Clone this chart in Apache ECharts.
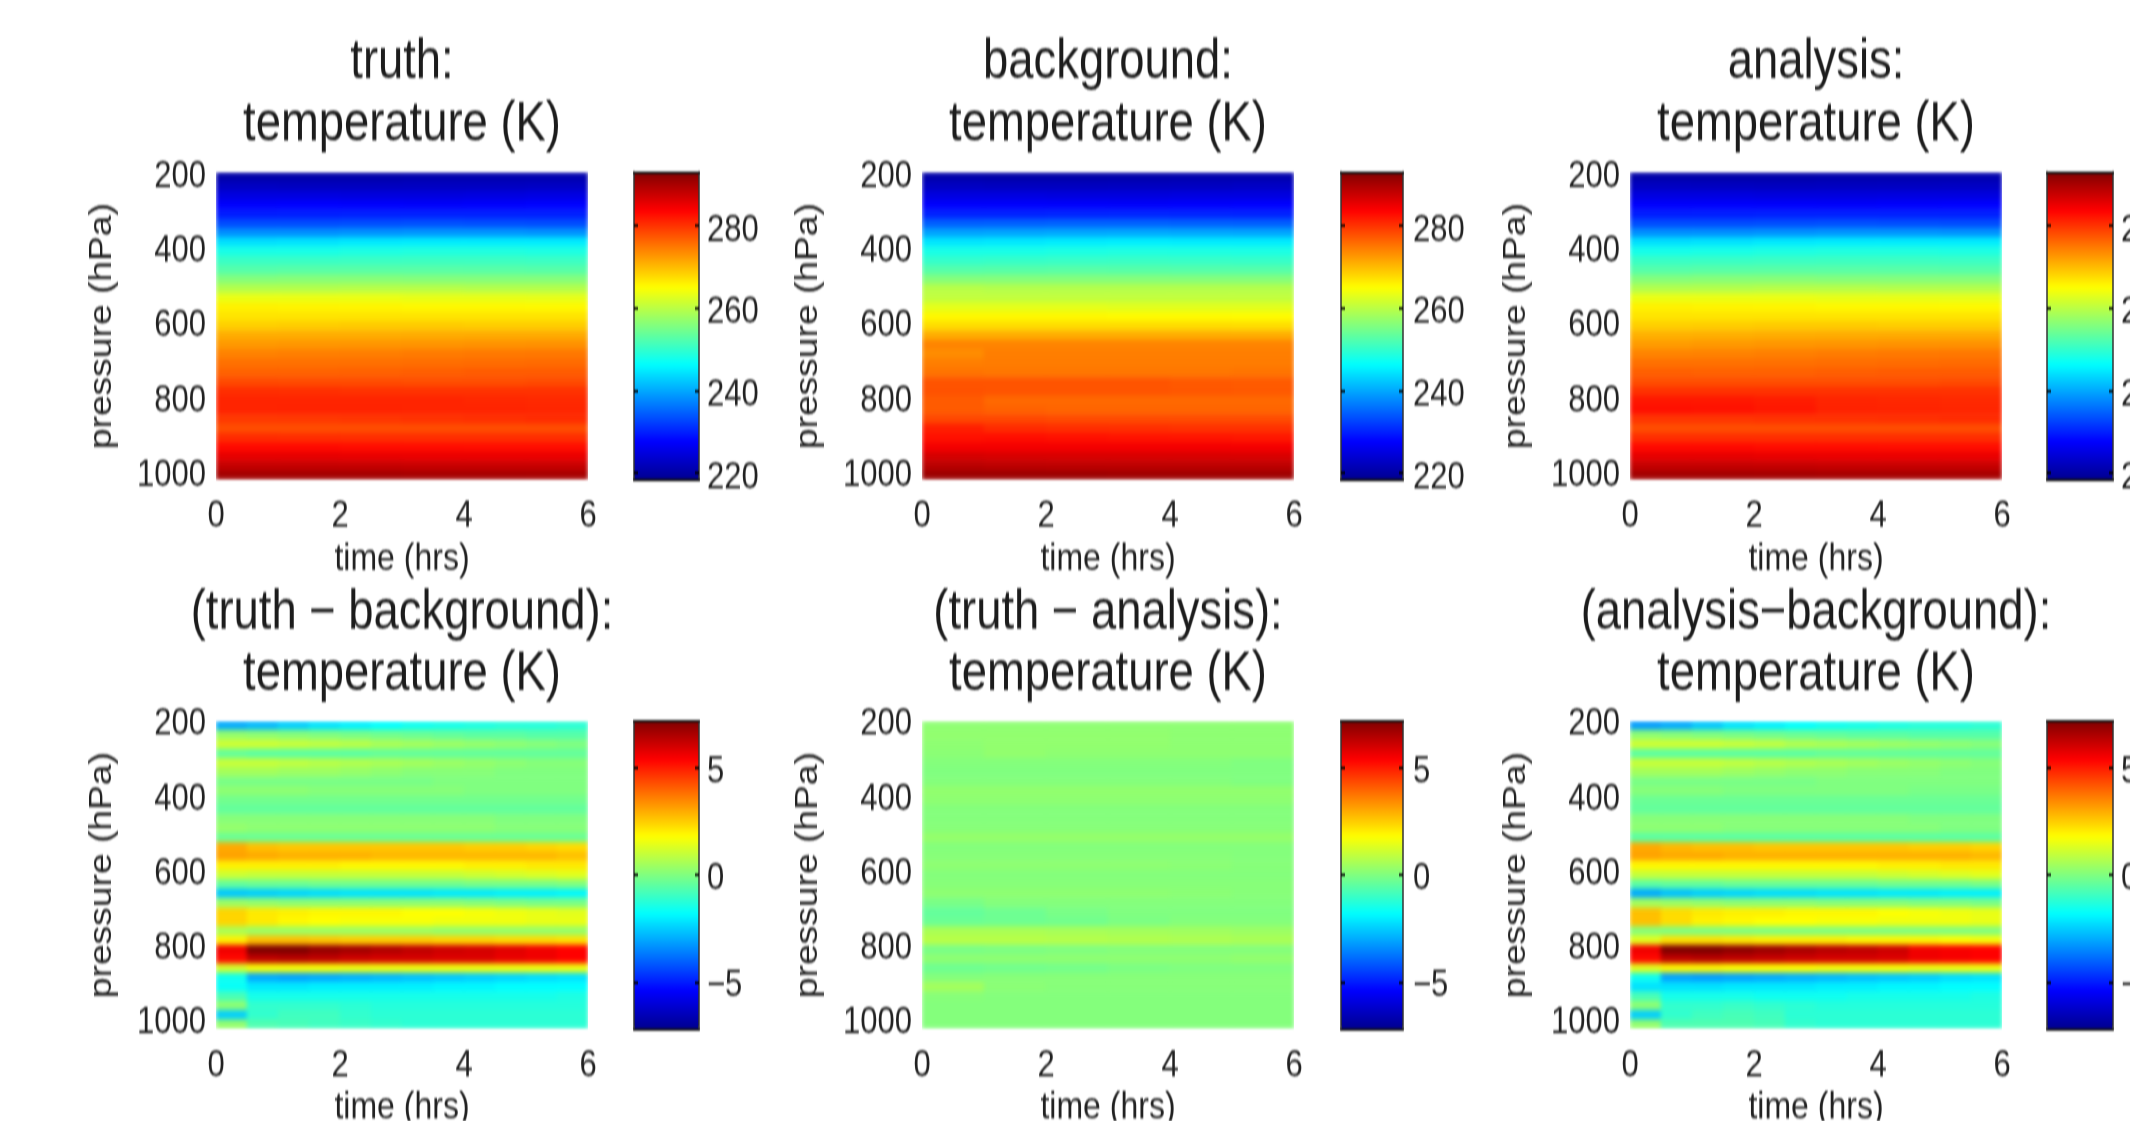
<!DOCTYPE html>
<html><head><meta charset="utf-8">
<style>html,body{margin:0;padding:0;background:#fff;overflow:hidden;width:2130px;height:1121px}
#c{width:2130px;height:934px;transform:scale(1,1.2);transform-origin:0 0;filter:blur(0.7px)}</style>
<script src="https://cdn.jsdelivr.net/npm/echarts@6/dist/echarts.min.js"></script>
</head><body><div id="c"></div>
<script>
const pressureLevels = [212,237,262,287,312,337,362,387,412,437,462,487,512,537,562,587,612,637,662,687,712,737,762,787,812,837,862,887,912,937,962,987,1012];
const timeCoarse = [0.5,1.5,2.5,3.5,4.5,5.5];
const timeFine = [0.25,0.75,1.25,1.75,2.25,2.75,3.25,3.75,4.25,4.75,5.25,5.75];
const pressureTicks = [200,400,600,800,1000];
const timeTicks = [0,2,4,6];
const tempTicks = [220,240,260,280];
const diffTicks = [-5,0,5];
const tempRange = [218.3,293];
const diffRange = [-7.2,7.2];
const jet = ['#00008f','#0000ff','#0080ff','#00ffff','#80ff80','#ffff00','#ff8000','#ff0000','#800000'];

const truthT = [
[220.3,220.4,220.5,220.6,220.7,220.8],[222.5,222.3,222.3,222.5,222.5,222.6],[225,225,224.8,224.8,225,225.2],[227.5,227.6,227.5,227.3,227.5,227.7],
[229.5,229.7,229.8,229.8,229.8,229.8],[233,233,233.2,233.3,233.2,233],[238,238,238.3,238.5,238.5,238.3],[244,244.3,244.8,245,245,245],
[248,248,248.3,248.5,248.5,248.3],[250.5,250.5,250.6,250.7,250.7,250.6],[252.5,252.7,252.8,252.8,252.7,252.6],[256,256.2,256.2,256,256,256],
[259.5,259.5,259.7,259.7,259.5,259.5],[263.5,263.5,263.5,263.3,263.3,263.2],[266,265.8,265.7,265.5,265.5,265.4],[267,267,267,267,267,267],
[268.5,268.7,268.8,268.8,268.7,268.7],[271,271,271,271.1,271.2,271.2],[272.5,272.6,272.7,272.8,272.9,273],[274.2,274.4,274.5,274.7,274.8,274.9],
[275.5,275.5,275.6,275.7,275.8,275.9],[276.5,276.5,276.6,276.8,277,277],[278.3,278.2,278.1,278,278,278.2],[280.3,280.2,280,280,280,280],
[281,281,281,281,280.8,280.7],[281,281.1,281.1,281,281,280.9],[279.5,279.6,279.8,280,280.2,280.5],[278,278,278,278,278,278],
[280.5,280.4,280.3,280.3,280.3,280.3],[283,283,282.8,282.8,282.7,282.7],[285.5,285.5,285.3,285.2,285.2,285.2],[288,288,287.9,287.8,287.8,287.8],[290.5,290.5,290.4,290.3,290.3,290.2]];

const backgroundT = [
[220.5,220.3,220.3,220.5,220.6,220.7],[222.5,222.3,222.3,222.4,222.5,222.7],[225,225,224.8,224.8,225,225],[227.5,227.5,227.4,227.3,227.5,227.6],
[230,230,230.1,230.2,230.1,230],[234.5,234.6,234.7,234.7,234.6,234.4],[239.5,239.6,239.8,239.9,239.8,239.6],[244.5,244.7,245,245.2,245,245],
[248,248,248.2,248.4,248.3,248.2],[250,250.2,250.3,250.4,250.3,250.2],[252.5,252.6,252.7,252.6,252.5,252.5],[256,256,256,256,256,256],
[259.8,259.5,259.5,259.5,259.5,259.5],[260.5,260.5,260.5,260.5,260.5,260.5],[263,263,263,262.8,262.8,262.8],[265.5,265.5,265.5,265.3,265.3,265.2],
[267.5,267.5,267.5,267.5,267.5,267.4],[271,271,271,271,271,271],[274,274,274,274,274,274],[273.4,274.5,274.5,274.5,274.5,274.5],
[274.5,274.6,274.6,274.6,274.6,274.6],[275.2,275,275,275,275,275.2],[277.5,277.5,277.5,277.5,277.2,277],[277.7,277.5,277.5,277.5,277.3,277.2],
[277,276,276,276,276,276],[277,276.5,276.3,276.3,276.3,276.3],[278.5,278.5,278.3,278.3,278.2,278.2],[281.5,280.5,280.3,280.2,280,280],
[282.5,282.7,282.5,282.3,282.2,282],[284.5,284.5,284.5,284.5,284.5,284.4],[286.8,286.6,286.5,286.5,286.5,286.5],[288.8,288.6,288.5,288.5,288.5,288.5],[291,291,291,290.8,290.8,290.8]];

const analysisT = [
[220.4,220.4,220.5,220.6,220.6,220.8],[222.5,222.4,222.3,222.4,222.5,222.6],[225,225,224.8,224.8,225,225],[227.5,227.5,227.4,227.3,227.5,227.6],
[229.6,229.7,229.8,229.8,229.8,229.8],[233,233,233.2,233.3,233.2,233],[238,238.1,238.3,238.5,238.5,238.3],[244,244.3,244.8,245,245,245],
[247.8,248,248.3,248.5,248.5,248.3],[250.4,250.5,250.6,250.7,250.7,250.6],[252.5,252.7,252.8,252.8,252.7,252.6],[256,256.2,256.2,256,256,256],
[259.4,259.5,259.7,259.7,259.5,259.5],[263.5,263.5,263.5,263.3,263.3,263.2],[266,265.8,265.7,265.5,265.5,265.4],[267,267,267,267,267,267],
[268.5,268.7,268.8,268.8,268.7,268.7],[270.7,270.9,271,271.1,271.2,271.2],[272.3,272.5,272.7,272.8,272.9,273],[274,274.2,274.4,274.6,274.8,274.9],
[275.5,275.5,275.6,275.7,275.8,275.9],[276.7,276.6,276.6,276.8,277,277],[278,278,278,278,278,278.2],[280,280,280,280,280,280],
[282,282,281.6,281,280.8,280.7],[282.6,282.4,282,281.2,281,280.9],[279.8,279.8,280,280.1,280.2,280.5],[278,278,278,278,278,278],
[280.3,280.3,280.3,280.3,280.3,280.3],[283,283,282.8,282.8,282.7,282.7],[285.5,285.5,285.3,285.2,285.2,285.2],[288,288,287.9,287.8,287.8,287.8],[290.5,290.5,290.4,290.3,290.3,290.2]];

const truthMinusBackground = [
[-3,-2.8,-2.5,-2.2,-2,-1.8,-1.6,-1.5,-1.4,-1.3,-1.3,-1.2],[.3,.2,.1,0,-.1,-.2,-.3,-.4,-.5,-.5,-.6,-.6],[1.1,1.1,1,.9,.8,.6,.5,.4,.3,.2,.1,0],[-.4,-.5,-.5,-.5,-.5,-.4,-.4,-.4,-.4,-.4,-.4,-.4],
[1,1,.9,.8,.7,.6,.5,.4,.3,.2,.1,.1],[.5,.5,.4,.4,.3,.2,.1,.1,.1,0,0,0],[-.1,-.1,-.1,-.1,-.1,-.1,-.1,0,0,0,0,0],[.2,.2,.2,.1,.1,.1,.1,.1,0,0,0,0],
[-.2,-.2,-.2,-.2,-.2,-.2,-.2,-.2,-.2,-.2,-.2,-.2],[-.4,-.4,-.4,-.4,-.4,-.4,-.4,-.4,-.4,-.4,-.4,-.4],[.1,.1,.1,.1,.1,.1,.1,.1,.1,0,0,0],[.3,.2,.2,.2,.2,.2,.2,.2,.2,.1,.1,.1],
[-.3,-.3,-.3,-.3,-.3,-.3,-.3,-.3,-.3,-.3,-.3,-.3],[3,2.7,2.6,2.6,2.6,2.6,2.6,2.6,2.5,2.5,2.4,2.3],[3.1,3,2.9,2.9,2.9,2.8,2.8,2.8,2.8,2.8,2.8,2.7],[2,2,2,2,1.9,1.9,1.9,1.9,2,2,2.1,2.1],
[1.1,1,1,1,1,1,1,1,1.1,1.2,1.3,1.4],[-.4,-.3,-.3,-.2,-.2,-.2,-.2,-.2,-.1,-.1,-.1,0],[-2.6,-2.5,-2.4,-2.3,-2.2,-2.2,-2.2,-2.1,-2.1,-2,-2,-1.9],[.4,.3,.2,.2,.2,.2,.2,.2,.1,0,-.1,-.1],
[2.4,2.1,2,1.9,1.9,1.9,1.8,1.8,1.7,1.6,1.5,1.4],[2.4,2.1,1.9,1.8,1.7,1.7,1.7,1.6,1.6,1.6,1.5,1.5],[.6,.4,.4,.4,.4,.4,.4,.3,.3,.3,.3,.3],[2,2.7,2.7,2.6,2.5,2.5,2.5,2.4,2.4,2.3,2.3,2.2],
[5.6,7.2,7.2,6.9,6.7,6.5,6.3,6.1,6,5.8,5.6,5.4],[5.3,6.3,6.4,6.3,6.1,6,6,5.9,5.9,5.7,5.6,5.4],[1.2,1.7,1.7,1.7,1.6,1.6,1.6,1.6,1.6,1.6,1.6,1.6],[-1.6,-3,-3.1,-3,-2.9,-2.8,-2.7,-2.6,-2.5,-2.4,-2.3,-2.2],
[-1.7,-2.1,-2.1,-2,-2,-2,-2,-1.9,-1.9,-1.8,-1.8,-1.8],[-.8,-1.5,-1.5,-1.5,-1.5,-1.5,-1.5,-1.5,-1.5,-1.5,-1.5,-1.4],[.2,-1.1,-1.1,-1.1,-1.2,-1.3,-1.3,-1.3,-1.3,-1.3,-1.3,-1.3],[-2.5,-1.1,-.9,-.9,-1.1,-1.2,-1.2,-1.2,-1.2,-1.2,-1.2,-1.2],[.3,-.7,-.8,-.9,-1,-1.1,-1.2,-1.2,-1.2,-1.2,-1.2,-1.2]];

const truthMinusAnalysis = [
[.2,.2,.2,.2,.2,.2],[.25,.25,.25,.25,.2,.2],[.2,.25,.25,.25,.2,.2],[.15,.25,.2,.2,.2,.2],
[.05,.05,.05,.05,.05,0],[0,0,0,0,0,0],[.05,.05,.05,.05,.05,0],[.25,.25,.25,.25,.25,.25],
[.2,.2,.2,.2,.2,.2],[.05,.05,.05,.05,.05,.05],[.05,.05,.05,.05,.05,.05],[.1,.1,.1,.1,.1,.1],
[.3,.3,.3,.3,.3,.3],[.05,.05,.05,.05,.05,.05],[.1,.1,.1,.1,.1,.05],[.2,.2,.2,.2,.15,.1],
[.05,.05,.05,.05,.05,.05],[.1,.1,.1,.1,.1,.1],[.2,.2,.2,.2,.15,.1],[-.1,.05,.05,.05,.05,.05],
[-.4,-.25,-.1,0,0,0],[-.3,-.25,-.2,-.05,.05,.05],[.6,.6,.55,.5,.45,.4],[.8,.8,.75,.7,.65,.6],
[-.1,-.05,0,.05,.05,.05],[.2,.2,.2,.2,.2,.25],[-.25,-.2,-.15,-.05,0,0],[.05,.1,.1,.1,.1,.1],
[.5,.15,.1,.1,.1,.1],[.1,.05,.05,.05,.05,.05],[.05,.05,.05,.05,.05,.05],[.05,.05,.05,.05,.05,.05],[.05,.05,.05,.05,.05,.05]];

const analysisMinusBackground = [
[-3.2,-3,-2.6,-2.2,-2,-1.8,-1.6,-1.5,-1.4,-1.3,-1.3,-1.2],[.2,.1,0,-.1,-.2,-.3,-.4,-.5,-.5,-.6,-.6,-.6],[1.1,1.1,1.1,1,.9,.7,.6,.5,.4,.3,.2,.1],[-.5,-.5,-.5,-.5,-.5,-.5,-.4,-.4,-.4,-.4,-.4,-.4],
[1,1,1,.9,.8,.7,.6,.5,.4,.3,.2,.1],[.5,.5,.5,.4,.3,.2,.2,.1,.1,.1,0,0],[-.1,-.1,-.1,-.1,-.1,-.1,0,0,0,0,0,0],[.1,.1,.1,0,0,0,0,0,0,-.1,-.1,-.1],
[-.3,-.3,-.3,-.3,-.3,-.3,-.3,-.3,-.3,-.3,-.3,-.3],[-.4,-.4,-.4,-.4,-.4,-.4,-.4,-.4,-.4,-.4,-.4,-.4],[.1,.1,.1,.1,.1,.1,.1,.1,.1,0,0,0],[.2,.2,.2,.1,.1,.1,.1,.1,.1,.1,0,0],
[-.5,-.5,-.5,-.5,-.5,-.5,-.5,-.5,-.5,-.5,-.5,-.5],[3,2.8,2.7,2.7,2.6,2.6,2.6,2.6,2.6,2.5,2.5,2.4],[3.1,3,3,2.9,2.9,2.9,2.9,2.9,2.9,2.9,2.9,2.8],[1.9,1.9,1.9,1.9,1.9,1.9,1.9,1.9,2,2,2.1,2.1],
[1,1,1,1,1,1,1,1,1.1,1.2,1.3,1.4],[-.5,-.4,-.4,-.3,-.3,-.3,-.3,-.3,-.2,-.2,-.2,-.1],[-3,-2.7,-2.5,-2.4,-2.3,-2.3,-2.2,-2.2,-2.1,-2.1,-2,-2],[.5,.4,.3,.2,.2,.2,.1,.1,.1,0,0,-.1],
[2.7,2.3,2.1,2,2,1.9,1.9,1.9,1.8,1.7,1.6,1.5],[2.7,2.3,2,1.9,1.8,1.8,1.7,1.7,1.6,1.6,1.6,1.5],[.1,0,0,0,0,0,0,0,0,0,0,0],[1.4,2.2,2.2,2.1,2,2,2,1.9,1.9,1.9,1.8,1.7],
[5.6,7.2,7.2,7,6.8,6.6,6.4,6.3,6.1,5.6,5.5,5.4],[5.3,6.3,6.4,6.3,6.2,6.1,6,6,5.9,5.6,5.5,5.4],[1.4,1.9,1.9,1.8,1.8,1.8,1.7,1.7,1.7,1.6,1.6,1.6],[-1.6,-3.1,-3.2,-3.1,-3,-2.9,-2.8,-2.7,-2.6,-2.5,-2.3,-2.2],
[-2.2,-2.2,-2.2,-2.1,-2.1,-2.1,-2,-2,-1.9,-1.9,-1.8,-1.8],[-.8,-1.5,-1.5,-1.5,-1.6,-1.6,-1.6,-1.5,-1.5,-1.5,-1.5,-1.4],[.2,-1.1,-1.1,-1,-1.1,-1.2,-1.3,-1.3,-1.3,-1.3,-1.3,-1.3],[-2.5,-1.1,-.9,-.8,-.9,-1.2,-1.2,-1.2,-1.2,-1.2,-1.2,-1.2],[.3,-.7,-.7,-.7,-.8,-1.1,-1.2,-1.2,-1.2,-1.2,-1.2,-1.2]];

const panels = [
 {title:'truth:\ntemperature (K)', data:truthT, times:timeCoarse, range:tempRange, ticks:tempTicks},
 {title:'background:\ntemperature (K)', data:backgroundT, times:timeCoarse, range:tempRange, ticks:tempTicks},
 {title:'analysis:\ntemperature (K)', data:analysisT, times:timeCoarse, range:tempRange, ticks:tempTicks},
 {title:'(truth \u2212 background):\ntemperature (K)', data:truthMinusBackground, times:timeFine, range:diffRange, ticks:diffTicks},
 {title:'(truth \u2212 analysis):\ntemperature (K)', data:truthMinusAnalysis, times:timeCoarse, range:diffRange, ticks:diffTicks},
 {title:'(analysis\u2212background):\ntemperature (K)', data:analysisMinusBackground, times:timeFine, range:diffRange, ticks:diffTicks}
];

const F = 1.2;
const plotX = [216,922,1630], plotW = 372, barX = [634,1341,2047], barW = [65,62,66], barMargin = [8,10,8];
const plotY = [172/F,721/F], plotH = 308/F, titleTop = [21.7,480.2], labelDrop = [8,6];
const font = '"Liberation Sans",Arial,sans-serif';
const ink = '#222';

const opt = {backgroundColor:'transparent', animation:false, title:[], grid:[], xAxis:[], yAxis:[], visualMap:[], series:[]};
panels.forEach((p,i)=>{
  const c = i%3, r = Math.floor(i/3);
  const x = plotX[c], y = plotY[r];
  opt.title.push({text:p.title, left:x+plotW/2-5, top:titleTop[r], textAlign:'center',
    textStyle:{fontFamily:font,fontSize:45.4,fontWeight:'normal',color:'#1c1c1c',lineHeight:51.7}});
  const gi = opt.grid.length;
  opt.grid.push({left:x,top:y,width:plotW,height:plotH,outerBoundsMode:'none'});
  const xc = opt.xAxis.length;
  opt.xAxis.push({type:'category',gridIndex:gi,data:p.times,show:false});
  const yc = opt.yAxis.length;
  opt.yAxis.push({type:'category',gridIndex:gi,data:pressureLevels,inverse:true,show:false});
  opt.xAxis.push({type:'value',gridIndex:gi,min:0,max:6,position:'bottom',name:'time (hrs)',nameLocation:'middle',nameGap:50,nameMoveOverlap:false,
    nameTextStyle:{fontFamily:font,fontSize:32,color:ink},
    axisLine:{show:false},axisTick:{show:false},splitLine:{show:false},
    axisLabel:{customValues:timeTicks,fontFamily:font,fontSize:31,color:ink,margin:15}});
  opt.yAxis.push({type:'value',gridIndex:gi,min:200,max:1025,inverse:true,position:'left',name:'pressure (hPa)',nameLocation:'middle',nameGap:98,nameRotate:90,nameMoveOverlap:false,
    nameTextStyle:{fontFamily:font,fontSize:31,color:ink},
    axisLine:{show:false},axisTick:{show:false},splitLine:{show:false},
    axisLabel:{customValues:pressureTicks,fontFamily:font,fontSize:31,color:ink,margin:10,verticalAlign:'top',lineHeight:labelDrop[r],formatter:v=>String(v)}});
  const cells=[];
  p.data.forEach((row,ri)=>row.forEach((v,ci)=>cells.push([ci,ri,v])));
  const si = opt.series.length;
  opt.series.push({type:'heatmap',xAxisIndex:xc,yAxisIndex:yc,data:cells,zlevel:1,progressive:0,itemStyle:{borderWidth:0},emphasis:{disabled:true}});
  opt.visualMap.push({type:'continuous',seriesIndex:si,min:p.range[0],max:p.range[1],calculable:false,realtime:false,hoverLink:false,padding:0,
    left:barX[c],top:y,itemWidth:barW[c],itemHeight:plotH,showLabel:false,inRange:{color:jet},z:4});
  const gb = opt.grid.length;
  opt.grid.push({left:barX[c],top:y,width:barW[c],height:plotH,outerBoundsMode:'none'});
  const lineStyle={color:'#111',width:2};
  opt.xAxis.push({type:'value',gridIndex:gb,min:0,max:1,position:'top',z:10,axisLine:{show:true,onZero:false,lineStyle},axisTick:{show:false},axisLabel:{show:false},splitLine:{show:false}});
  opt.xAxis.push({type:'value',gridIndex:gb,min:0,max:1,position:'bottom',z:10,axisLine:{show:true,onZero:false,lineStyle},axisTick:{show:false},axisLabel:{show:false},splitLine:{show:false}});
  opt.yAxis.push({type:'value',gridIndex:gb,min:p.range[0],max:p.range[1],position:'right',z:10,axisLine:{show:true,onZero:false,lineStyle:{color:'#333',width:1.5}},
    axisTick:{show:true,inside:true,length:4,customValues:p.ticks,lineStyle:{color:'#000',width:2}},splitLine:{show:false},
    axisLabel:{customValues:p.ticks,fontFamily:font,fontSize:31,color:ink,margin:barMargin[c],verticalAlign:'top',lineHeight:labelDrop[r],formatter:v=>String(v).replace('-','\u2212')}});
  opt.yAxis.push({type:'value',gridIndex:gb,min:p.range[0],max:p.range[1],position:'left',z:10,axisLine:{show:true,onZero:false,lineStyle:{color:'#333',width:1.5}},
    axisTick:{show:true,inside:true,length:4,customValues:p.ticks,lineStyle:{color:'#000',width:2}},axisLabel:{show:false},splitLine:{show:false}});
});
echarts.init(document.getElementById('c'),null,{renderer:'canvas',width:2130,height:934}).setOption(opt);
// the reference's contour field is smooth: soften only the field layer, and keep it inside the plot boxes
const field = document.querySelector('canvas[data-zr-dom-id="zr_1"]');
if (field) {
  let d='';
  plotY.forEach(y=>plotX.forEach(x=>{d+=`M${x} ${y}h${plotW}v${plotH}h${-plotW}z`;}));
  field.style.filter='blur(2px)';
  field.style.clipPath=`path('${d}')`;
}
</script></body></html>
